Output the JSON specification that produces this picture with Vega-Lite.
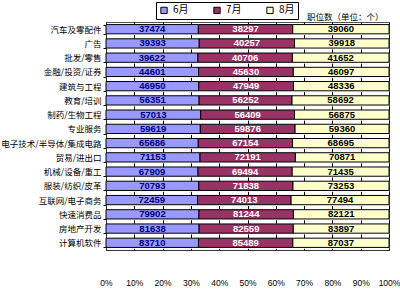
{
  "$schema": "https://vega.github.io/schema/vega-lite/v6.json",
  "autosize": "none",
  "width": 283,
  "height": 228,
  "padding": {"left": 106, "top": 22, "right": 11, "bottom": 48},
  "background": "#ffffff",
  "config": {
    "view": {"stroke": "#555555", "strokeWidth": 1},
    "font": "Noto Sans CJK SC"
  },
  "data": {"values": [
    {"c": "汽车及零配件", "m": "6月", "v": 37474}, {"c": "汽车及零配件", "m": "7月", "v": 38297}, {"c": "汽车及零配件", "m": "8月", "v": 39060},
    {"c": "广告", "m": "6月", "v": 39393}, {"c": "广告", "m": "7月", "v": 40257}, {"c": "广告", "m": "8月", "v": 39918},
    {"c": "批发/零售", "m": "6月", "v": 39622}, {"c": "批发/零售", "m": "7月", "v": 40706}, {"c": "批发/零售", "m": "8月", "v": 41652},
    {"c": "金融/投资/证券", "m": "6月", "v": 44601}, {"c": "金融/投资/证券", "m": "7月", "v": 45630}, {"c": "金融/投资/证券", "m": "8月", "v": 46097},
    {"c": "建筑与工程", "m": "6月", "v": 46950}, {"c": "建筑与工程", "m": "7月", "v": 47949}, {"c": "建筑与工程", "m": "8月", "v": 48336},
    {"c": "教育/培训", "m": "6月", "v": 56351}, {"c": "教育/培训", "m": "7月", "v": 56252}, {"c": "教育/培训", "m": "8月", "v": 58692},
    {"c": "制药/生物工程", "m": "6月", "v": 57013}, {"c": "制药/生物工程", "m": "7月", "v": 56409}, {"c": "制药/生物工程", "m": "8月", "v": 56875},
    {"c": "专业服务", "m": "6月", "v": 59619}, {"c": "专业服务", "m": "7月", "v": 59876}, {"c": "专业服务", "m": "8月", "v": 59360},
    {"c": "电子技术/半导体/集成电路", "m": "6月", "v": 65686}, {"c": "电子技术/半导体/集成电路", "m": "7月", "v": 67154}, {"c": "电子技术/半导体/集成电路", "m": "8月", "v": 68695},
    {"c": "贸易/进出口", "m": "6月", "v": 71153}, {"c": "贸易/进出口", "m": "7月", "v": 72191}, {"c": "贸易/进出口", "m": "8月", "v": 70871},
    {"c": "机械/设备/重工", "m": "6月", "v": 67909}, {"c": "机械/设备/重工", "m": "7月", "v": 69494}, {"c": "机械/设备/重工", "m": "8月", "v": 71435},
    {"c": "服装/纺织/皮革", "m": "6月", "v": 70793}, {"c": "服装/纺织/皮革", "m": "7月", "v": 71838}, {"c": "服装/纺织/皮革", "m": "8月", "v": 73253},
    {"c": "互联网/电子商务", "m": "6月", "v": 72459}, {"c": "互联网/电子商务", "m": "7月", "v": 74013}, {"c": "互联网/电子商务", "m": "8月", "v": 77494},
    {"c": "快速消费品", "m": "6月", "v": 79902}, {"c": "快速消费品", "m": "7月", "v": 81244}, {"c": "快速消费品", "m": "8月", "v": 82121},
    {"c": "房地产开发", "m": "6月", "v": 81638}, {"c": "房地产开发", "m": "7月", "v": 82559}, {"c": "房地产开发", "m": "8月", "v": 83897},
    {"c": "计算机软件", "m": "6月", "v": 83710}, {"c": "计算机软件", "m": "7月", "v": 85489}, {"c": "计算机软件", "m": "8月", "v": 87037}
  ]},
  "transform": [
    {"stack": "v", "groupby": ["c"], "sort": [{"field": "m", "order": "ascending"}], "offset": "normalize", "as": ["v0", "v1"]},
    {"calculate": "(datum.v0 + datum.v1) / 2", "as": "vm"}
  ],
  "encoding": {
    "y": {"field": "c", "type": "nominal", "sort": null,
      "scale": {"paddingInner": 0.35, "paddingOuter": 0.18},
      "axis": {"title": null, "ticks": true, "tickBand": "extent", "tickSize": 3, "tickColor": "#000000", "domain": true, "domainColor": "#333333", "labelPadding": 2, "labelFontSize": 8.5, "labelColor": "#000000", "labelFont": "Noto Sans CJK SC", "labelLimit": 110}}
  },
  "layer": [
    {
      "mark": {"type": "bar", "stroke": "#000000", "strokeWidth": 1},
      "encoding": {
        "x": {"field": "v0", "type": "quantitative",
          "scale": {"domain": [0, 1], "nice": false},
          "axis": {"orient": "bottom", "title": null, "format": ".0%", "values": [0, 0.1, 0.2, 0.3, 0.4, 0.5, 0.6, 0.7, 0.8, 0.9, 1], "labelOverlap": false, "labelFlush": false, "grid": true, "gridColor": "#000000", "gridWidth": 1, "gridDash": [3.5, 10.74], "gridDashOffset": 1.75, "ticks": false, "domain": true, "domainColor": "#333333", "labelPadding": 28, "labelFontSize": 8.5, "labelColor": "#000000", "labelFont": "Liberation Sans"}},
        "x2": {"field": "v1"},
        "color": {"field": "m", "type": "nominal",
          "scale": {"domain": ["6月", "7月", "8月"], "range": ["#9999ff", "#993366", "#ffffcc"]},
          "legend": {"title": null, "orient": "none", "legendX": 50, "legendY": -20, "direction": "horizontal", "symbolType": "square", "symbolSize": 40, "symbolStrokeColor": "#000000", "symbolStrokeWidth": 1, "labelFontSize": 10, "labelFont": "Noto Sans CJK SC", "labelColor": "#000000", "columnPadding": 22, "strokeColor": "#000000", "fillColor": "#ffffff", "padding": 3}}
      }
    },
    {
      "mark": {"type": "text", "fontSize": 9.5, "fontWeight": "bold", "font": "Liberation Sans", "baseline": "middle", "align": "center"},
      "encoding": {
        "x": {"field": "vm", "type": "quantitative",
          "axis": {"orient": "top", "title": "职位数（单位：个）", "titleAnchor": "end", "titleFontSize": 8.5, "titleFontWeight": "normal", "titleFont": "Noto Sans CJK SC", "titleColor": "#000000", "titlePadding": 1, "titleX": 277, "titleAlign": "right", "labels": false, "ticks": false, "domain": false, "grid": false}},
        "text": {"field": "v", "type": "quantitative", "format": "d"},
        "color": {"field": "m", "type": "nominal", "scale": {"domain": ["6月", "7月", "8月"], "range": ["#000080", "#ffffff", "#000000"]}, "legend": null}
      }
    }
  ],
  "resolve": {"scale": {"color": "independent"}, "axis": {"x": "independent"}}
}
